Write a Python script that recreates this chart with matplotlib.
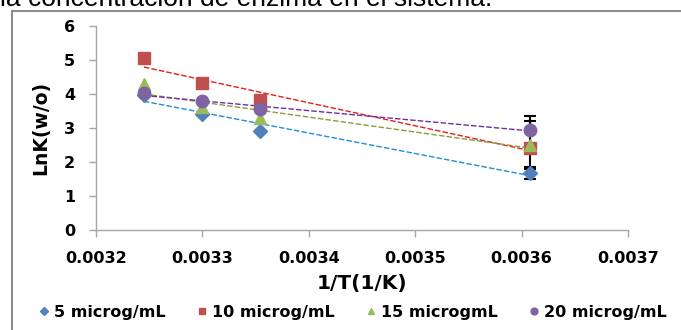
import numpy as np
import matplotlib
matplotlib.use("Agg")
import matplotlib.pyplot as plt
from matplotlib.patches import Rectangle

plt.rcParams['font.family'] = ['DejaVu Sans']

# 1/T values (1/K)
inv_T = [0.003245, 0.0033, 0.003354, 0.003608]

# LnK(w/o) per enzyme concentration
ln_k_5 = [3.98, 3.41, 2.91, 1.67]
ln_k_10 = [5.05, 4.31, 3.82, 2.42]
ln_k_15 = [4.28, 3.63, 3.28, 2.50]
ln_k_20 = [4.02, 3.79, 3.56, 2.94]

# error bars exist only on the last point (1/T = 0.003608)
err_last = [0.17, 0.0, 0.70, 0.42]

labels = ['5 microg/mL', '10 microg/mL', '15 microgmL', '20 microg/mL']
series = [ln_k_5, ln_k_10, ln_k_15, ln_k_20]
markers = ['D', 's', '^', 'o']
msizes = [7.5, 9, 9, 9]
colors = ['#4f81bd', '#c0504d', '#9bbb59', '#8064a2']
trend_colors = ['#1f8fd8', '#e0201c', '#8a9c3c', '#7030a0']

fig = plt.figure(figsize=(6.81, 3.30), dpi=100)

# cropped caption text at the very top
fig.text(0.0, 1 - 6 / 330, 'la concentración de enzima en el sistema.',
         fontsize=19, va='baseline', ha='left', color='black',
         family=['Liberation Sans', 'DejaVu Sans'])

# chart frame
fig.patches.append(Rectangle((12 / 681, -0.1), 1.2, 1 - 11 / 330 + 0.1,
                             transform=fig.transFigure, fill=False,
                             edgecolor='#8c8c8c', linewidth=1.5))

ax = fig.add_axes([96 / 681, 1 - 230 / 330, (628 - 96) / 681, (230 - 26) / 330])

x = np.array(inv_T)
for ys, er, m, ms, c, tc, lab in zip(series, err_last, markers, msizes, colors, trend_colors, labels):
    ys = np.array(ys)
    # linear trendline
    k, b = np.polyfit(x, ys, 1)
    ax.plot(x[[0, -1]], k * x[[0, -1]] + b, color=tc, lw=1.0, ls=(0, (4, 1.5)), zorder=2)
    if er > 0:
        ax.errorbar(x[-1:], ys[-1:], yerr=er, fmt='none', ecolor='black', elinewidth=1.5,
                    capsize=4, capthick=1.5, zorder=3)
    ax.plot(x, ys, ls='none', marker=m, ms=ms, color=c, mec=c, label=lab, zorder=4)

ax.set_xlim(0.0032, 0.0037)
ax.set_ylim(0, 6)
ax.set_xticks([0.0032, 0.0033, 0.0034, 0.0035, 0.0036, 0.0037])
ax.set_xticklabels(['0.0032', '0.0033', '0.0034', '0.0035', '0.0036', '0.0037'])
ax.set_yticks(range(0, 7))

for s in ['top', 'right']:
    ax.spines[s].set_visible(False)
for s in ['left', 'bottom']:
    ax.spines[s].set_color('#a6a6a6')
    ax.spines[s].set_linewidth(1.0)
ax.tick_params(axis='both', colors='#a6a6a6', length=5, width=1.0, direction='out')
ax.tick_params(axis='x', pad=10)
ax.tick_params(axis='y', pad=10)
for t in ax.get_xticklabels() + ax.get_yticklabels():
    t.set_color('black')
    t.set_fontweight('bold')
    t.set_fontsize(11.5)

ax.set_xlabel('1/T(1/K)', fontsize=14.5, fontweight='bold', labelpad=6)
ax.set_ylabel('LnK(w/o)', fontsize=13.5, fontweight='bold', labelpad=10)

handles, labs = ax.get_legend_handles_labels()
leg = fig.legend(handles, labs, loc='center', bbox_to_anchor=(0.518, 1 - 312 / 330),
                 ncol=4, frameon=False, markerscale=0.55, handlelength=0.7,
                 handletextpad=0.3, columnspacing=1.9,
                 prop={'weight': 'bold', 'size': 11.5})

fig.savefig('out.png', dpi=100)
